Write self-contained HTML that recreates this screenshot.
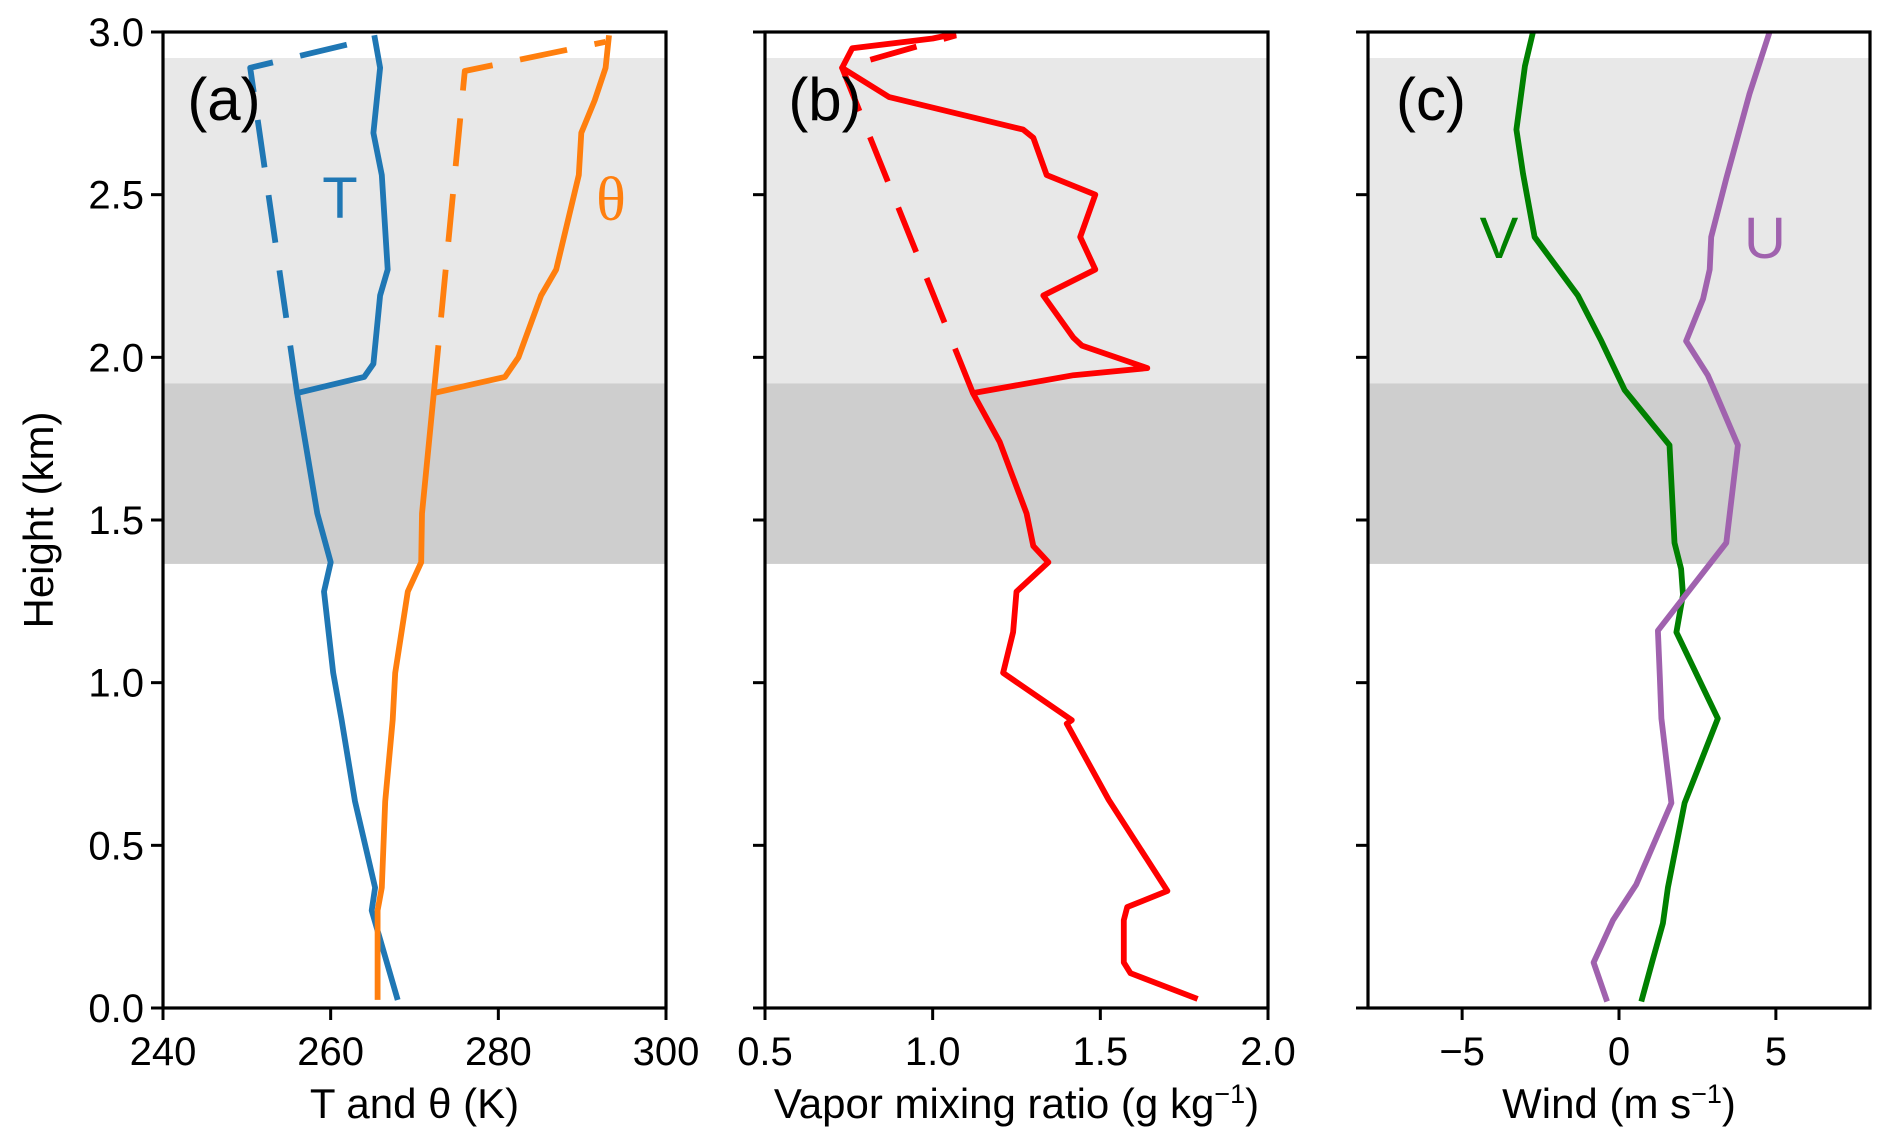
<!DOCTYPE html>
<html><head><meta charset="utf-8">
<style>
html,body{margin:0;padding:0;background:#fff;}
svg{display:block;font-family:"Liberation Sans","DejaVu Sans",sans-serif;}
</style></head>
<body>
<svg id="chart" width="1892" height="1144" viewBox="0 0 1892 1144" xmlns="http://www.w3.org/2000/svg"></svg>
<script>
// ---- data ----
const heightTicks = [0.0, 0.5, 1.0, 1.5, 2.0, 2.5, 3.0];
const heightTickLabels = ["0.0","0.5","1.0","1.5","2.0","2.5","3.0"];
const bandLight = [1.92, 2.92];
const bandDark = [1.365, 1.92];

const tempTicks = [240, 260, 280, 300];
const tempTickLabels = ["240","260","280","300"];
const tempH = [0.025,0.30,0.37,0.635,0.886,1.03,1.28,1.37,1.52,1.89,1.94,1.98,2.19,2.27,2.56,2.69,2.89,2.99];
const tempVal = [268.0,264.9,265.3,262.9,261.3,260.3,259.2,260.0,258.4,256.0,264.0,265.1,265.9,266.8,266.1,265.1,265.9,265.2];
const tempDashH = [1.89, 2.89, 2.98];
const tempDashVal = [256.0, 250.4, 265.0];
const thetaH = [0.025,0.30,0.37,0.635,0.886,1.03,1.28,1.37,1.52,1.89,1.94,2.0,2.19,2.27,2.56,2.69,2.79,2.89,2.99];
const thetaVal = [265.6,265.6,266.1,266.5,267.4,267.7,269.2,270.8,270.9,272.3,280.8,282.4,285.1,286.9,289.6,289.9,291.5,292.8,293.2];
const thetaDashH = [1.89, 2.88, 2.97];
const thetaDashVal = [272.3, 276.0, 292.8];

const vapTicks = [0.5, 1.0, 1.5, 2.0];
const vapTickLabels = ["0.5","1.0","1.5","2.0"];
const vapH = [0.028,0.107,0.14,0.27,0.31,0.36,0.64,0.874,0.885,1.03,1.155,1.28,1.37,1.42,1.52,1.74,1.89,1.945,1.967,2.036,2.06,2.19,2.27,2.37,2.50,2.56,2.675,2.70,2.80,2.89,2.95,2.98,2.995];
const vapVal = [1.79,1.59,1.57,1.57,1.58,1.70,1.525,1.40,1.415,1.21,1.24,1.25,1.345,1.30,1.28,1.20,1.12,1.42,1.64,1.445,1.42,1.33,1.485,1.44,1.485,1.34,1.30,1.27,0.87,0.73,0.76,1.00,1.07];
const vapDashH = [1.89, 2.89, 2.99];
const vapDashVal = [1.12, 0.73, 1.07];

const windTicks = [-5, 0, 5];
const windTickLabels = ["\u22125","0","5"];
const vWindH = [0.02,0.15,0.26,0.37,0.63,0.89,1.155,1.27,1.35,1.43,1.73,1.90,2.05,2.19,2.37,2.565,2.70,2.895,3.0];
const vWindVal = [0.71,1.08,1.40,1.56,2.09,3.15,1.83,2.04,1.98,1.77,1.61,0.18,-0.56,-1.31,-2.69,-3.06,-3.27,-3.0,-2.74];
const uWindH = [0.02,0.14,0.27,0.38,0.63,0.89,1.02,1.16,1.43,1.73,1.885,1.945,2.05,2.18,2.27,2.37,2.55,2.81,3.0];
const uWindVal = [-0.38,-0.81,-0.19,0.55,1.67,1.35,1.30,1.24,3.42,3.79,3.10,2.83,2.14,2.68,2.89,2.94,3.42,4.16,4.80];

// ---- layout ----
const NS = "http://www.w3.org/2000/svg";
const svg = document.getElementById("chart");
const Y0 = 1008, Y1 = 32;
function yScale(h){ return Y0 + (Y1 - Y0) * (h / 3); }
function mk(tag, attrs, parent){
  const e = document.createElementNS(NS, tag);
  for (const k in attrs) e.setAttribute(k, attrs[k]);
  (parent || svg).appendChild(e);
  return e;
}
function panel(name, x0, x1, dmin, dmax){
  const g = mk("g", {});
  
  
  const xs = v => x0 + (x1 - x0) * (v - dmin) / (dmax - dmin);
  return {g, xs, x0, x1};
}
function bands(p){
  const b1 = mk("rect", {x:p.x0, y:yScale(bandLight[1]), width:p.x1-p.x0, height:yScale(bandLight[0])-yScale(bandLight[1]), fill:"#e8e8e8"}, p.g);
  
  
  const b2 = mk("rect", {x:p.x0, y:yScale(bandDark[1]), width:p.x1-p.x0, height:yScale(bandDark[0])-yScale(bandDark[1]), fill:"#cecece"}, p.g);
  
  
}
function line(p, hs, vs, color, dashed, name){
  const pts = hs.map((h,i) => p.xs(vs[i]).toFixed(1) + "," + yScale(h).toFixed(1)).join(" ");
  const attrs = {points:pts, fill:"none", stroke:color, "stroke-width":5.8, "stroke-linejoin":"round", "stroke-linecap":"butt"};
  if (dashed) attrs["stroke-dasharray"] = "48 28";
  const l = mk("polyline", attrs, p.g);
  
  
}
function axes(p, ticks, labels, xlabelNode, showY){
  const fr = mk("rect", {x:p.x0, y:Y1, width:p.x1-p.x0, height:Y0-Y1, fill:"none", stroke:"#000", "stroke-width":3.2}, p.g);
  
  
  ticks.forEach((t,i) => {
    const x = p.xs(t);
    const tk = mk("line", {x1:x, x2:x, y1:Y0, y2:Y0+12, stroke:"#000", "stroke-width":3}, p.g);
    
    
    const tl = mk("text", {x:x, y:1065, "text-anchor":"middle", "font-size":40}, p.g);
    tl.textContent = labels[i];
    
    
  });
  heightTicks.forEach((h,i) => {
    const y = yScale(h);
    const tk = mk("line", {x1:p.x0-12, x2:p.x0, y1:y, y2:y, stroke:"#000", "stroke-width":3}, p.g);
    
    
    if (showY){
      const tl = mk("text", {x:p.x0-19, y:y+14, "text-anchor":"end", "font-size":40}, p.g);
      tl.textContent = heightTickLabels[i];
      
      
    }
  });
  const xl = mk("text", {x:(p.x0+p.x1)/2, y:1118, "text-anchor":"middle", "font-size":42}, p.g);
  xl.innerHTML = xlabelNode;
  
  
}
function label(p, txt, x, y, size, color, name, family){
  const t = mk("text", {x:x, y:y, "font-size":size, fill:color, "text-anchor":"middle"}, p.g);
  if (family) t.setAttribute("font-family", family);
  t.textContent = txt;
  
  
}

// panel a
const pa = panel("panel-a-temperature", 163, 666, 240, 300);
bands(pa);
line(pa, tempDashH, tempDashVal, "#1f77b4", true, "temperature-dashed-line");
line(pa, tempH, tempVal, "#1f77b4", false, "temperature-line");
line(pa, thetaDashH, thetaDashVal, "#ff7f0e", true, "theta-dashed-line");
line(pa, thetaH, thetaVal, "#ff7f0e", false, "theta-line");
axes(pa, tempTicks, tempTickLabels, "T and \u03b8 (K)", true);
label(pa, "(a)", 224, 120, 60, "#000", "panel-label-a");
label(pa, "T", 340, 218, 58, "#1f77b4", "temperature-label");
label(pa, "\u03b8", 611, 220, 62, "#ff7f0e", "theta-label", "Liberation Serif, serif");

// panel b
const pb = panel("panel-b-vapor", 765, 1268, 0.5, 2.0);
bands(pb);
line(pb, vapDashH, vapDashVal, "#ff0000", true, "vapor-dashed-line");
line(pb, vapH, vapVal, "#ff0000", false, "vapor-line");
axes(pb, vapTicks, vapTickLabels, 'Vapor mixing ratio (g kg<tspan font-size="27" dy="-15">\u22121</tspan><tspan dy="15">)</tspan>', false);
label(pb, "(b)", 825, 120, 60, "#000", "panel-label-b");

// panel c
const pc = panel("panel-c-wind", 1368, 1870, -8, 8);
bands(pc);
line(pc, vWindH, vWindVal, "#008000", false, "v-wind-line");
line(pc, uWindH, uWindVal, "#a062ae", false, "u-wind-line");
axes(pc, windTicks, windTickLabels, 'Wind (m s<tspan font-size="27" dy="-15">\u22121</tspan><tspan dy="15">)</tspan>', false);
label(pc, "(c)", 1431, 120, 60, "#000", "panel-label-c");
label(pc, "V", 1499, 258, 58, "#008000", "v-wind-label");
label(pc, "U", 1765, 258, 58, "#a062ae", "u-wind-label");

// y axis title
const yt = mk("text", {x:0, y:0, "font-size":42, "text-anchor":"middle", transform:"translate(53,520) rotate(-90)"});
yt.textContent = "Height (km)";


</script>
</body></html>
